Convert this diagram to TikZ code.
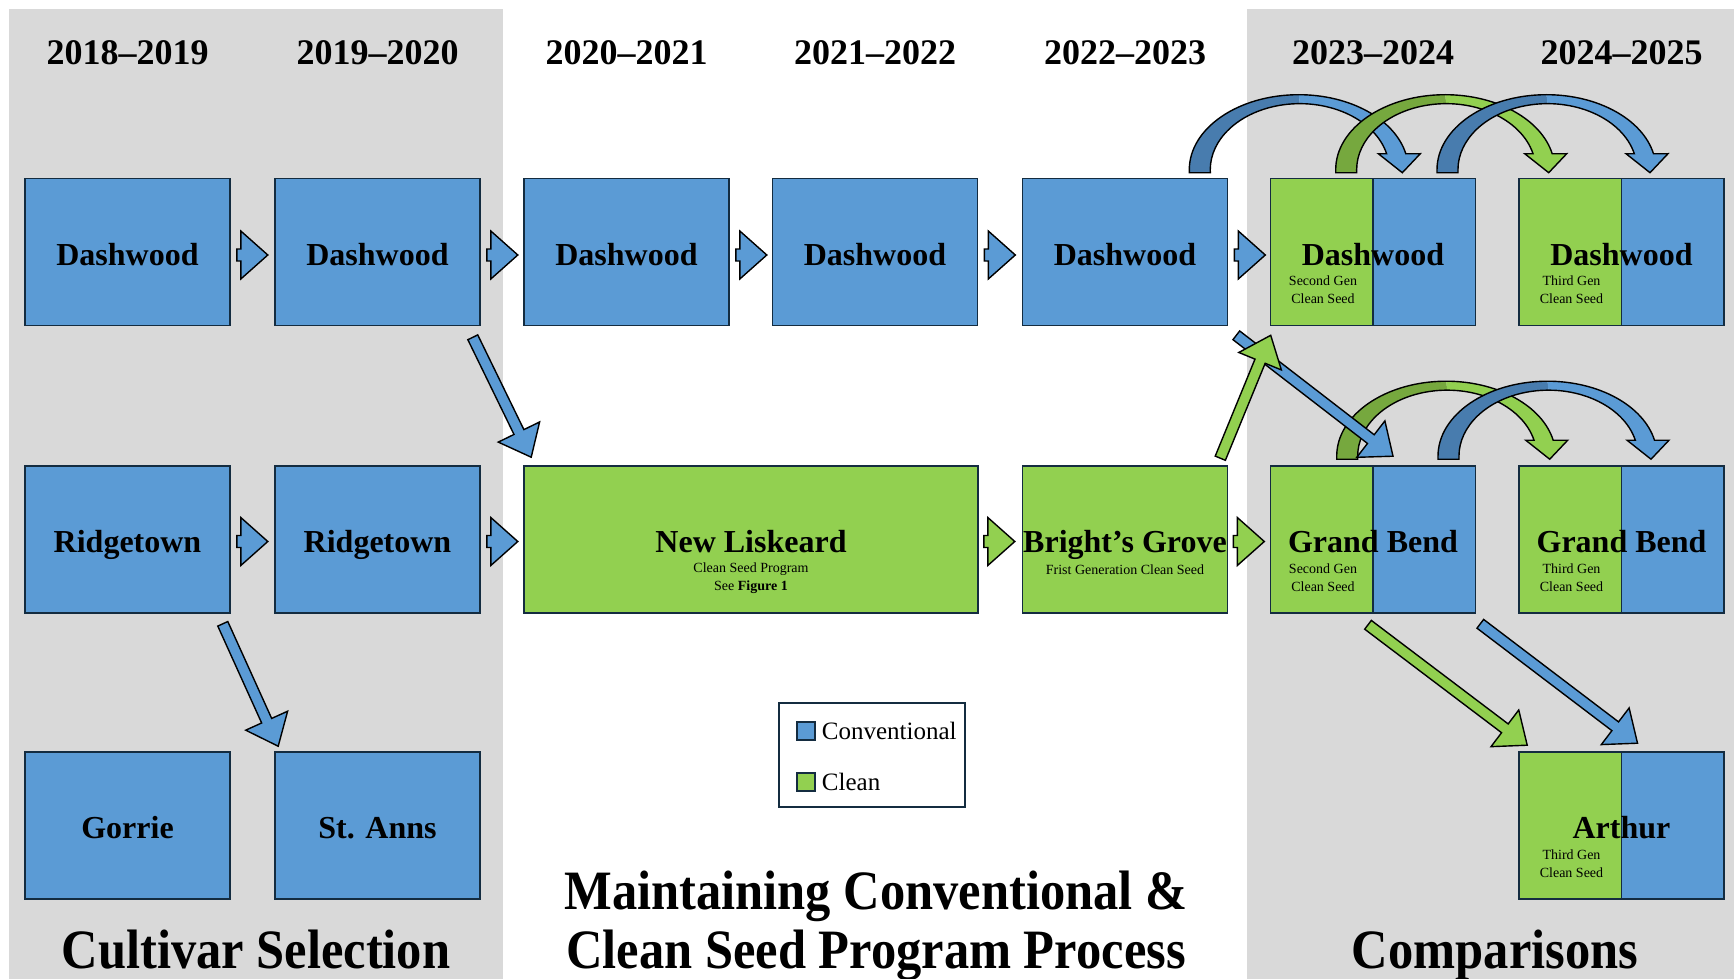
\documentclass[tikz,border=0pt]{standalone}
\usepackage{fontspec}
\setmainfont{Liberation Serif}
\usepackage{graphicx}
\usepackage{tikz}
\usetikzlibrary{calc}
\definecolor{ConvBlue}{RGB}{91,155,213}
\definecolor{CleanGreen}{RGB}{146,208,80}
\definecolor{ConvBlueDark}{RGB}{72,124,174}
\definecolor{CleanGreenDark}{RGB}{118,168,62}
\definecolor{PanelGray}{RGB}{217,217,217}
\definecolor{BoxLine}{RGB}{20,44,64}

\tikzset{
  site/.style={draw=BoxLine, line width=1.6pt, minimum width=205, minimum height=147, inner sep=0pt, text height=26pt, text depth=0pt, font=\fontsize{32}{36}\selectfont\bfseries},
  conv/.style={site, fill=ConvBlue},
  clean/.style={site, fill=CleanGreen},
  both/.style={site, fill=CleanGreen, path picture={\fill[ConvBlue] (path picture bounding box.north) rectangle (path picture bounding box.south east); \draw[BoxLine, line width=1.6pt] (path picture bounding box.north) -- (path picture bounding box.south);}},
  year/.style={font=\fontsize{36}{40}\selectfont\bfseries},
  panel/.style={font=\fontsize{50.5}{59}\selectfont\bfseries, anchor=base, inner sep=0pt},
  note/.style={font=\fontsize{14}{18}\selectfont, align=center, inner sep=0pt},
  key/.style={font=\fontsize{25}{30}\selectfont, anchor=west, inner sep=0pt},
  keybox/.style={draw=BoxLine, line width=1.5pt, minimum size=18, inner sep=0pt},
  arrowline/.style={draw=black, line width=1.4pt, line join=miter},
}

% block arrow between two years, #1 left middle point
\newcommand{\yeararrow}[2]{%
  \filldraw[arrowline, fill=#2, shift={(#1)}] (0,-6) -- (4,-6) -- (4,-24) -- (31,0) -- (4,24) -- (4,6) -- (0,6) -- cycle;
}
% straight fat arrow, #1 tail, #2 tip
\newcommand{\seedarrow}[3]{%
  \coordinate (hb) at ($(#2)!28pt!(#1)$);
  \filldraw[arrowline, fill=#3] ($(#1)!5.5pt!90:(#2)$) -- ($(hb)!5.5pt!90:(#2)$) -- ($(hb)!23pt!90:(#2)$) -- (#2) -- ($(hb)!23pt!-90:(#2)$) -- ($(hb)!5.5pt!-90:(#2)$) -- ($(#1)!5.5pt!-90:(#2)$) -- cycle;
}
% curved arrow over the boxes, #1 tail (outer left, bottom)
\newcommand{\carryarrow}[3]{%
  \fill[#2, shift={(#1)}] (0,0) -- (0,-3) arc[start angle=-180, end angle=-90, x radius=109.5, y radius=75] -- (110.5,-69) arc[start angle=-90, end angle=-180, x radius=89.5, y radius=66] -- (21,0) -- cycle;
  \fill[#3, shift={(#1)}] (109.5,-78) arc[start angle=-90, end angle=-12.3, x radius=109.5, y radius=75] -- (231,-19) -- (213,0) -- (189,-19) -- (197.3,-19) arc[start angle=-14, end angle=-90, x radius=89.5, y radius=66] -- cycle;
  \draw[arrowline, shift={(#1)}] (0,0) -- (0,-3) arc[start angle=-180, end angle=-12.3, x radius=109.5, y radius=75] -- (231,-19) -- (213,0) -- (189,-19) -- (197.3,-19) arc[start angle=-14, end angle=-180, x radius=89.5, y radius=66] -- (21,0) -- cycle;
}

\begin{document}
\begin{tikzpicture}[x=1pt,y=1pt,yscale=-1,xscale=1]
\useasboundingbox (0,0) rectangle (1734,979);

%Shape: Rectangle [side panels]
\fill[PanelGray] (9,9) rectangle (503,979);
\fill[PanelGray] (1247,9) rectangle (1734,979);

% Text Node
\node[year] (y1) at (127.5,53) {2018–2019};
\node[year] (y2) at (377.5,53) {2019–2020};
\node[year] (y3) at (626.5,53) {2020–2021};
\node[year] (y4) at (875,53) {2021–2022};
\node[year] (y5) at (1125,53) {2022–2023};
\node[year] (y6) at (1373,53) {2023–2024};
\node[year] (y7) at (1621.5,53) {2024–2025};

%Shape: Rectangle [first row]
\node[conv] (d1) at (127.5,252) {Dashwood};
\node[conv] (d2) at (377.5,252) {Dashwood};
\node[conv] (d3) at (626.5,252) {Dashwood};
\node[conv] (d4) at (875,252) {Dashwood};
\node[conv] (d5) at (1125,252) {Dashwood};
\node[both] (d6) at (1373,252) {Dashwood};
\node[both] (d7) at (1621.5,252) {Dashwood};
\node[note] (d6n) at ($(d6.center)+(-50,38)$) {Second Gen\\Clean Seed};
\node[note] (d7n) at ($(d7.center)+(-50,38)$) {Third Gen\\Clean Seed};

%Shape: Rectangle [second row]
\node[conv] (r1) at (127.5,539.5) {Ridgetown};
\node[conv] (r2) at (377.5,539.5) {Ridgetown};
\node[clean, minimum width=454] (nl) at (751,539.5) {New Liskeard};
\node[clean] (bg) at (1125,539.5) {Bright’s Grove};
\node[both] (gb6) at (1373,539.5) {Grand Bend};
\node[both] (gb7) at (1621.5,539.5) {Grand Bend};
\node[note] (nln) at ($(nl.center)+(0,39)$) {Clean Seed Program\\See \textbf{Figure 1}};
\node[note] (bgn) at ($(bg.center)+(0,30)$) {Frist Generation Clean Seed};
\node[note] (gb6n) at ($(gb6.center)+(-50,38)$) {Second Gen\\Clean Seed};
\node[note] (gb7n) at ($(gb7.center)+(-50,38)$) {Third Gen\\Clean Seed};

%Shape: Rectangle [third row]
\node[conv] (gorrie) at (127.5,825.5) {Gorrie};
\node[conv] (stanns) at (377.5,825.5) {St. Anns};
\node[both] (arthur) at (1621.5,825.5) {Arthur};
\node[note] (arthurn) at ($(arthur.center)+(-50,38)$) {Third Gen\\Clean Seed};

%Right Arrows
\coordinate (s1) at ($(d1.east)+(6,3)$);
\coordinate (s2) at ($(d2.east)+(6,3)$);
\coordinate (s3) at ($(d3.east)+(6,3)$);
\coordinate (s4) at ($(d4.east)+(6,3)$);
\coordinate (s5) at ($(d5.east)+(6,3)$);
\coordinate (s6) at ($(r1.east)+(6,2)$);
\coordinate (s7) at ($(r2.east)+(6,2)$);
\coordinate (s8) at ($(nl.east)+(5,2)$);
\coordinate (s9) at ($(bg.east)+(5,2)$);
\yeararrow{s1}{ConvBlue}
\yeararrow{s2}{ConvBlue}
\yeararrow{s3}{ConvBlue}
\yeararrow{s4}{ConvBlue}
\yeararrow{s5}{ConvBlue}
\yeararrow{s6}{ConvBlue}
\yeararrow{s7}{ConvBlue}
\yeararrow{s8}{CleanGreen}
\yeararrow{s9}{CleanGreen}

%Curved Arrows
\coordinate (ca) at ($(d5.north east)+(-39,-5)$);
\coordinate (cb) at ($(d6.north west)+(66,-5)$);
\coordinate (cc) at ($(d6.north)+(64,-5)$);
\coordinate (cd) at ($(gb6.north west)+(67,-6)$);
\coordinate (ce) at ($(gb6.north)+(65,-6)$);
\carryarrow{ca}{ConvBlueDark}{ConvBlue}
\carryarrow{cb}{CleanGreenDark}{CleanGreen}
\carryarrow{cc}{ConvBlueDark}{ConvBlue}
\carryarrow{cd}{CleanGreenDark}{CleanGreen}
\carryarrow{ce}{ConvBlueDark}{ConvBlue}

%Straight Arrows
\coordinate (t1) at ($(d2.south east)+(-8,11)$);
\coordinate (h1) at ($(nl.north west)+(8,-8)$);
\coordinate (t2) at ($(r1.south east)+(-8,10)$);
\coordinate (h2) at ($(stanns.north west)+(4,-5)$);
\coordinate (t3) at ($(bg.north east)+(-8,-7)$);
\coordinate (h3) at ($(d6.south west)+(1,9)$);
\coordinate (t4) at ($(d5.south east)+(8,9)$);
\coordinate (h4) at ($(gb6.north)+(20,-9)$);
\coordinate (t5) at ($(gb6.south)+(-5,11)$);
\coordinate (h5) at ($(arthur.north west)+(9,-6)$);
\coordinate (t6) at ($(gb6.south east)+(4,10)$);
\coordinate (h6) at ($(arthur.north)+(16,-8)$);
\seedarrow{t1}{h1}{ConvBlue}
\seedarrow{t2}{h2}{ConvBlue}
\seedarrow{t4}{h4}{ConvBlue}
\seedarrow{t3}{h3}{CleanGreen}
\seedarrow{t5}{h5}{CleanGreen}
\seedarrow{t6}{h6}{ConvBlue}

%Legend
\node[draw=BoxLine, line width=1.8pt, fill=white, minimum width=186, minimum height=104] (legend) at (872,755) {};
\node[keybox, fill=ConvBlue] (keyc) at (806,731) {};
\node[keybox, fill=CleanGreen] (keyg) at (806,782) {};
\node[key] (keyct) at ($(keyc.east)+(6,0)$) {Conventional};
\node[key] (keygt) at ($(keyg.east)+(6,0)$) {Clean};

% Text Node
\node[panel] (sel) at (256,968) {\scalebox{1}[1.1]{Cultivar Selection}};
\node[panel] (prog1) at (876,909) {\scalebox{1}[1.1]{Maintaining Conventional \&}};
\node[panel] (prog2) at (876,968) {\scalebox{1}[1.1]{Clean Seed Program Process}};
\node[panel] (comp) at (1495,968) {\scalebox{1}[1.1]{Comparisons}};

\end{tikzpicture}
\end{document}
